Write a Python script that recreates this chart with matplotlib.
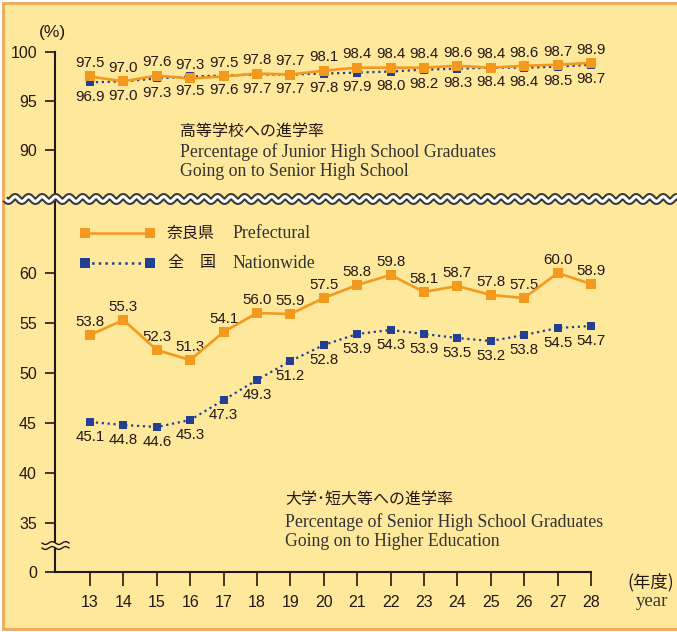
import numpy as np
import matplotlib.pyplot as plt
from matplotlib.lines import Line2D
from matplotlib.patches import Rectangle

# data
years = [13, 14, 15, 16, 17, 18, 19, 20, 21, 22, 23, 24, 25, 26, 27, 28]
hs_pref = [97.5, 97.0, 97.6, 97.3, 97.5, 97.8, 97.7, 98.1, 98.4, 98.4, 98.4, 98.6, 98.4, 98.6, 98.7, 98.9]
hs_nation = [96.9, 97.0, 97.3, 97.5, 97.6, 97.7, 97.7, 97.8, 97.9, 98.0, 98.2, 98.3, 98.4, 98.4, 98.5, 98.7]
uni_pref = [53.8, 55.3, 52.3, 51.3, 54.1, 56.0, 55.9, 57.5, 58.8, 59.8, 58.1, 58.7, 57.8, 57.5, 60.0, 58.9]
uni_nation = [45.1, 44.8, 44.6, 45.3, 47.3, 49.3, 51.2, 52.8, 53.9, 54.3, 53.9, 53.5, 53.2, 53.8, 54.5, 54.7]
top_ticks = [90, 95, 100]
bottom_ticks = [35, 40, 45, 50, 55, 60]
ZERO_POS = 30.1  # where "0" sits on the broken lower axis

ORANGE = '#F39A1E'
BLUE = '#233F94'
CREAM = '#FDE89C'
TXT = '#231815'
SANS = 'Liberation Sans'
SERIF = 'Liberation Serif'
JP = ['Noto Sans CJK JP', 'DejaVu Sans']
SERIF_SIZE = 12.8

W, H = 677, 632
fig = plt.figure(figsize=(W / 100, H / 100), dpi=100)
fig.patch.set_facecolor('white')


def fx(px):
    return px / W


def fy(py):
    return 1 - py / H


# background panel with border
fig.add_artist(Rectangle((fx(3), fy(629)), fx(W + 10), fy(3) - fy(629),
                         transform=fig.transFigure, facecolor=CREAM,
                         edgecolor='#F2A85A', linewidth=2, zorder=0))

X0, X1 = 55, 591
ax_top = fig.add_axes([fx(X0), fy(199), fx(X1 - X0), fy(52) - fy(199)])
ax_bot = fig.add_axes([fx(X0), fy(572), fx(X1 - X0), fy(199) - fy(572)])

xleft = 13 - (90 - X0) / ((X1 - 90) / 15)
for ax in (ax_top, ax_bot):
    ax.set_facecolor('none')
    ax.set_xlim(xleft, 28)
    for s in ('top', 'right'):
        ax.spines[s].set_visible(False)
    ax.spines['left'].set_linewidth(1.5)
    ax.spines['left'].set_color(TXT)
    ax.tick_params(axis='y', length=7, width=1.2, pad=6, colors=TXT)

ax_top.set_ylim(85, 100)
ax_top.spines['bottom'].set_visible(False)
ax_top.set_xticks([])
ax_top.set_yticks(top_ticks)
ax_top.set_yticklabels([str(t) for t in top_ticks], fontfamily=SANS, fontsize=11.5, color=TXT)

ax_bot.set_ylim(ZERO_POS, ZERO_POS + 37.3)
ax_bot.spines['bottom'].set_linewidth(1.5)
ax_bot.spines['bottom'].set_color(TXT)
ax_bot.set_yticks([ZERO_POS] + bottom_ticks)
ax_bot.set_yticklabels(['0'] + [str(t) for t in bottom_ticks], fontfamily=SANS, fontsize=11.5, color=TXT)
ax_bot.set_xticks(years)
ax_bot.set_xticklabels([str(y) for y in years], fontfamily=SANS, fontsize=11.5, color=TXT)
ax_bot.tick_params(axis='x', length=10, width=1.2, pad=6.5, colors=TXT)


def draw(ax, pref, nation):
    ax.plot(years, nation, color=BLUE, linestyle=':', linewidth=1.6, marker='s',
            markersize=6, markeredgewidth=0, clip_on=False, zorder=3)
    ax.plot(years, pref, color=ORANGE, linestyle='-', linewidth=1.9, marker='s',
            markersize=6.5, markeredgewidth=0, clip_on=False, zorder=4)
    for x, v in zip(years, pref):
        ax.annotate(f'{v:.1f}', (x, v), xytext=(0, 9.5), textcoords='offset points',
                    ha='center', va='center', fontsize=10.8, fontfamily=SANS, color=TXT)
    for x, v in zip(years, nation):
        ax.annotate(f'{v:.1f}', (x, v), xytext=(0, -10.5), textcoords='offset points',
                    ha='center', va='center', fontsize=10.8, fontfamily=SANS, color=TXT)


draw(ax_top, hs_pref, hs_nation)
draw(ax_bot, uni_pref, uni_nation)

# wavy break between the panels
wx = np.linspace(5, W, 1500)
wy = 199 + 2.4 * np.sin(2 * np.pi * (wx - 5) / 13.5)
fig.add_artist(Line2D(fx(wx), fy(wy), transform=fig.transFigure, color='#3a3a3a',
                      linewidth=5.2, solid_capstyle='butt', zorder=10))
fig.add_artist(Line2D(fx(wx), fy(wy), transform=fig.transFigure, color='white',
                      linewidth=2.2, solid_capstyle='butt', zorder=11))

# break mark on the lower y axis
fig.add_artist(Rectangle((fx(50), fy(547.5)), fx(10), fy(543) - fy(547.5),
                         transform=fig.transFigure, facecolor=CREAM, edgecolor='none', zorder=10))
bx = np.linspace(42, 69, 100)
for yc in (543, 548):
    by = yc + 1.4 * np.sin(2 * np.pi * (bx - 42) / 13.5)
    fig.add_artist(Line2D(fx(bx), fy(by), transform=fig.transFigure, color=TXT,
                          linewidth=1.0, zorder=11))

# legend
for yl, col, ls in ((233, ORANGE, '-'), (263, BLUE, ':')):
    fig.add_artist(Line2D([fx(85), fx(150)], [fy(yl), fy(yl)], transform=fig.transFigure,
                          color=col, linestyle=ls, linewidth=1.8, marker='s', markersize=7,
                          markeredgewidth=0, zorder=5))
fig.text(fx(167), fy(233), '奈良県', family=JP, fontsize=11.5, color=TXT, va='center')
fig.text(fx(167), fy(263), '全', family=JP, fontsize=11.5, color=TXT, va='center')
fig.text(fx(200), fy(263), '国', family=JP, fontsize=11.5, color=TXT, va='center')
fig.text(fx(232), fy(233), 'Prefectural', family=SERIF, fontsize=SERIF_SIZE, color='#333333', va='center')
fig.text(fx(232), fy(263), 'Nationwide', family=SERIF, fontsize=SERIF_SIZE, color='#333333', va='center')

# panel titles
fig.text(fx(180), fy(131), '高等学校への進学率', family=JP, fontsize=11.5, color=TXT, va='center')
fig.text(fx(180), fy(152), 'Percentage of Junior High School Graduates', family=SERIF,
         fontsize=SERIF_SIZE, color='#333333', va='center')
fig.text(fx(180), fy(171), 'Going on to Senior High School', family=SERIF,
         fontsize=SERIF_SIZE, color='#333333', va='center')
fig.text(fx(285), fy(500), '大学･短大等への進学率', family=JP, fontsize=11.5, color=TXT, va='center')
fig.text(fx(285), fy(522), 'Percentage of Senior High School Graduates', family=SERIF,
         fontsize=SERIF_SIZE, color='#333333', va='center')
fig.text(fx(285), fy(541), 'Going on to Higher Education', family=SERIF,
         fontsize=SERIF_SIZE, color='#333333', va='center')

# unit labels
fig.text(fx(39), fy(33), '(%)', family=SANS, fontsize=12.5, color=TXT, va='center')
fig.text(fx(627), fy(582), '(年度)', family=JP, fontsize=12.5, color=TXT, va='center')
fig.text(fx(636), fy(602), 'year', family=SERIF, fontsize=13.5, color='#333333', va='center')

fig.savefig('out.png', dpi=100)
